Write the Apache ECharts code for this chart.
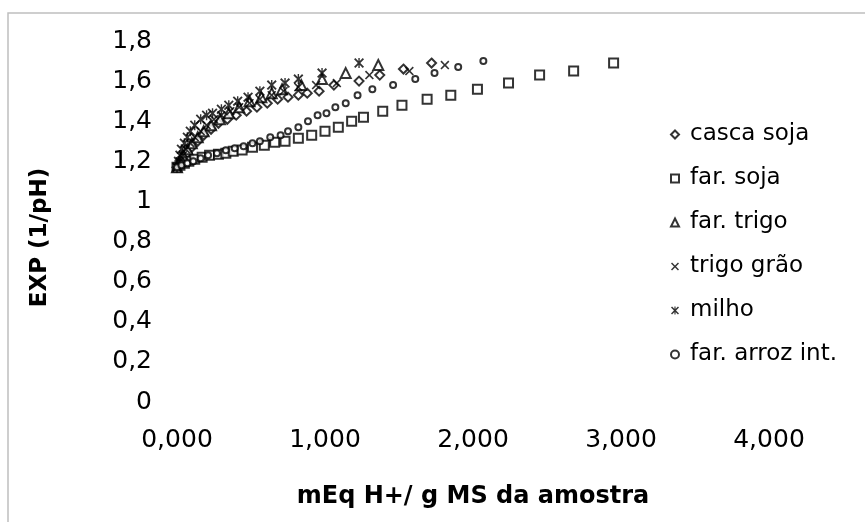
<!DOCTYPE html>
<html>
<head>
<meta charset="utf-8">
<script src="https://cdn.jsdelivr.net/npm/echarts@6/dist/echarts.min.js"></script>
<style>
  html, body { margin: 0; padding: 0; background: #fff; }
  #chart { width: 865px; height: 522px; }
</style>
</head>
<body>
<div id="chart"></div>
<script>
/* EXP(1/pH) x mEq H+ / g MS */

var seriesNames = ['casca soja', 'far. soja', 'far. trigo', 'trigo grão', 'milho', 'far. arroz int.'];

var cascaSoja = [[0.00,1.17],[0.02,1.19],[0.04,1.21],[0.07,1.24],[0.10,1.27],[0.14,1.30],[0.18,1.33],[0.23,1.36],
  [0.28,1.39],[0.34,1.41],[0.40,1.43],[0.47,1.45],[0.54,1.47],[0.61,1.49],[0.68,1.51],[0.75,1.52],[0.82,1.53],
  [0.88,1.54],[0.96,1.55],[1.06,1.58],[1.23,1.60],[1.37,1.63],[1.53,1.66],[1.72,1.69]];

var farSoja = [[0.00,1.17],[0.02,1.18],[0.05,1.19],[0.08,1.20],[0.12,1.21],[0.17,1.22],[0.22,1.23],[0.28,1.235],
  [0.33,1.24],[0.38,1.25],[0.44,1.256],[0.51,1.27],[0.59,1.28],[0.66,1.295],[0.73,1.30],[0.82,1.315],[0.91,1.33],
  [1.00,1.35],[1.09,1.37],[1.18,1.40],[1.26,1.42],[1.39,1.45],[1.52,1.48],[1.69,1.51],[1.85,1.53],[2.03,1.56],
  [2.24,1.59],[2.45,1.63],[2.68,1.65],[2.95,1.69]];

var farTrigo = [[0.00,1.17],[0.02,1.20],[0.04,1.23],[0.07,1.26],[0.10,1.29],[0.14,1.32],[0.18,1.35],[0.23,1.38],
  [0.29,1.41],[0.35,1.44],[0.42,1.47],[0.49,1.50],[0.57,1.52],[0.64,1.54],[0.71,1.56],[0.84,1.58],[0.98,1.61],
  [1.14,1.64],[1.36,1.68]];

var trigoGrao = [[0.00,1.17],[0.02,1.20],[0.04,1.23],[0.06,1.26],[0.09,1.29],[0.12,1.32],[0.16,1.35],[0.20,1.38],
  [0.25,1.41],[0.30,1.43],[0.36,1.45],[0.42,1.47],[0.49,1.49],[0.56,1.51],[0.64,1.53],[0.72,1.55],[0.82,1.57],
  [0.94,1.58],[1.08,1.59],[1.30,1.63],[1.57,1.65],[1.81,1.68]];

var milho = [[0.00,1.17],[0.01,1.20],[0.02,1.23],[0.03,1.26],[0.05,1.29],[0.07,1.32],[0.09,1.35],[0.12,1.38],
  [0.16,1.41],[0.20,1.43],[0.24,1.44],[0.30,1.46],[0.35,1.48],[0.41,1.50],[0.48,1.52],[0.56,1.55],[0.64,1.58],
  [0.73,1.59],[0.82,1.61],[0.98,1.64],[1.23,1.69]];

var farArroz = [[0.00,1.17],[0.03,1.18],[0.07,1.19],[0.11,1.20],[0.16,1.215],[0.21,1.23],[0.27,1.24],[0.33,1.255],
  [0.39,1.265],[0.45,1.275],[0.51,1.29],[0.56,1.30],[0.63,1.32],[0.70,1.33],[0.75,1.35],[0.82,1.37],[0.885,1.40],
  [0.95,1.43],[1.01,1.44],[1.07,1.47],[1.14,1.49],[1.22,1.53],[1.32,1.56],[1.46,1.58],[1.61,1.61],[1.74,1.64],
  [1.90,1.67],[2.07,1.70]];

var xTicks = [0, 1, 2, 3, 4];
var yTicks = [0, 0.2, 0.4, 0.6, 0.8, 1, 1.2, 1.4, 1.6, 1.8];

// marcadores em forma de x e asterisco
var xPath = 'path://M0,1.3L1.3,0L5,3.7L8.7,0L10,1.3L6.3,5L10,8.7L8.7,10L5,6.3L1.3,10L0,8.7L3.7,5Z';
var starPath = 'path://M0,1.3L1.3,0L5,3.7L8.7,0L10,1.3L6.3,5L10,8.7L8.7,10L5,6.3L1.3,10L0,8.7L3.7,5Z' +
  'M4.3,0L5.7,0L5.7,10L4.3,10Z';

var font = 'DejaVu Sans';

function mk(name, data, symbol, size, hollow) {
  return {
    name: name,
    type: 'scatter',
    data: data,
    symbol: symbol,
    symbolSize: size,
    itemStyle: hollow
      ? { color: '#fff', borderColor: '#000', borderWidth: 2 }
      : { color: '#000' }
  };
}

(function(){
  var myChart = echarts.init(document.getElementById('chart'));
  var option = {
    backgroundColor: '#fff',
    animation: false,
    graphic: [{
      type: 'rect',
      shape: { x: 8, y: 13, width: 900, height: 600 },
      style: { fill: 'none', stroke: '#bfbfbf', lineWidth: 1.5 },
      silent: true
    }],
    legend: {
      orient: 'vertical',
      left: 665,
      top: 118,
      itemGap: 21,
      itemWidth: 8,
      itemHeight: 8,
      textStyle: { fontFamily: font, fontSize: 23, color: '#000', padding: [0, 0, 0, 6], letterSpacing: -0.8 },
      data: seriesNames.map(function(n){ return { name: n }; })
    },
    grid: { left: 177, right: 96, top: 41, bottom: 120 },
    xAxis: {
      type: 'value',
      min: xTicks[0],
      max: xTicks[xTicks.length - 1],
      interval: 1,
      name: 'mEq H+/ g MS da amostra',
      nameLocation: 'middle',
      nameGap: 83,
      nameTextStyle: { fontFamily: font, fontSize: 24, fontWeight: 'bold', color: '#000', letterSpacing: -2 },
      axisLine: { show: false },
      axisTick: { show: false },
      splitLine: { show: false },
      axisLabel: {
        margin: 26,
        fontFamily: font, fontSize: 25, color: '#000',
        formatter: function(v){ return v.toFixed(3).replace('.', ','); }
      }
    },
    yAxis: {
      type: 'value',
      min: yTicks[0],
      max: yTicks[yTicks.length - 1],
      interval: 0.2,
      name: 'EXP (1/pH)',
      nameLocation: 'middle',
      nameGap: 125,
      nameTextStyle: { fontFamily: font, fontSize: 23, fontWeight: 'bold', color: '#000', padding: [0, 32, 0, 0], letterSpacing: -2.4 },
      axisLine: { show: false },
      axisTick: { show: false },
      splitLine: { show: false },
      axisLabel: {
        margin: 25,
        fontFamily: font, fontSize: 25, color: '#000',
        formatter: function(v){ return String(+v.toFixed(1)).replace('.', ','); }
      }
    },
    series: [
      mk(seriesNames[0], cascaSoja, 'diamond', 9, true),
      mk(seriesNames[1], farSoja, 'rect', 9, true),
      mk(seriesNames[2], farTrigo, 'triangle', 10, true),
      mk(seriesNames[3], trigoGrao, xPath, 9, false),
      mk(seriesNames[4], milho, starPath, 10, false),
      mk(seriesNames[5], farArroz, 'circle', 6, true)
    ]
  };
  myChart.setOption(option);
})();
</script>
</body>
</html>
